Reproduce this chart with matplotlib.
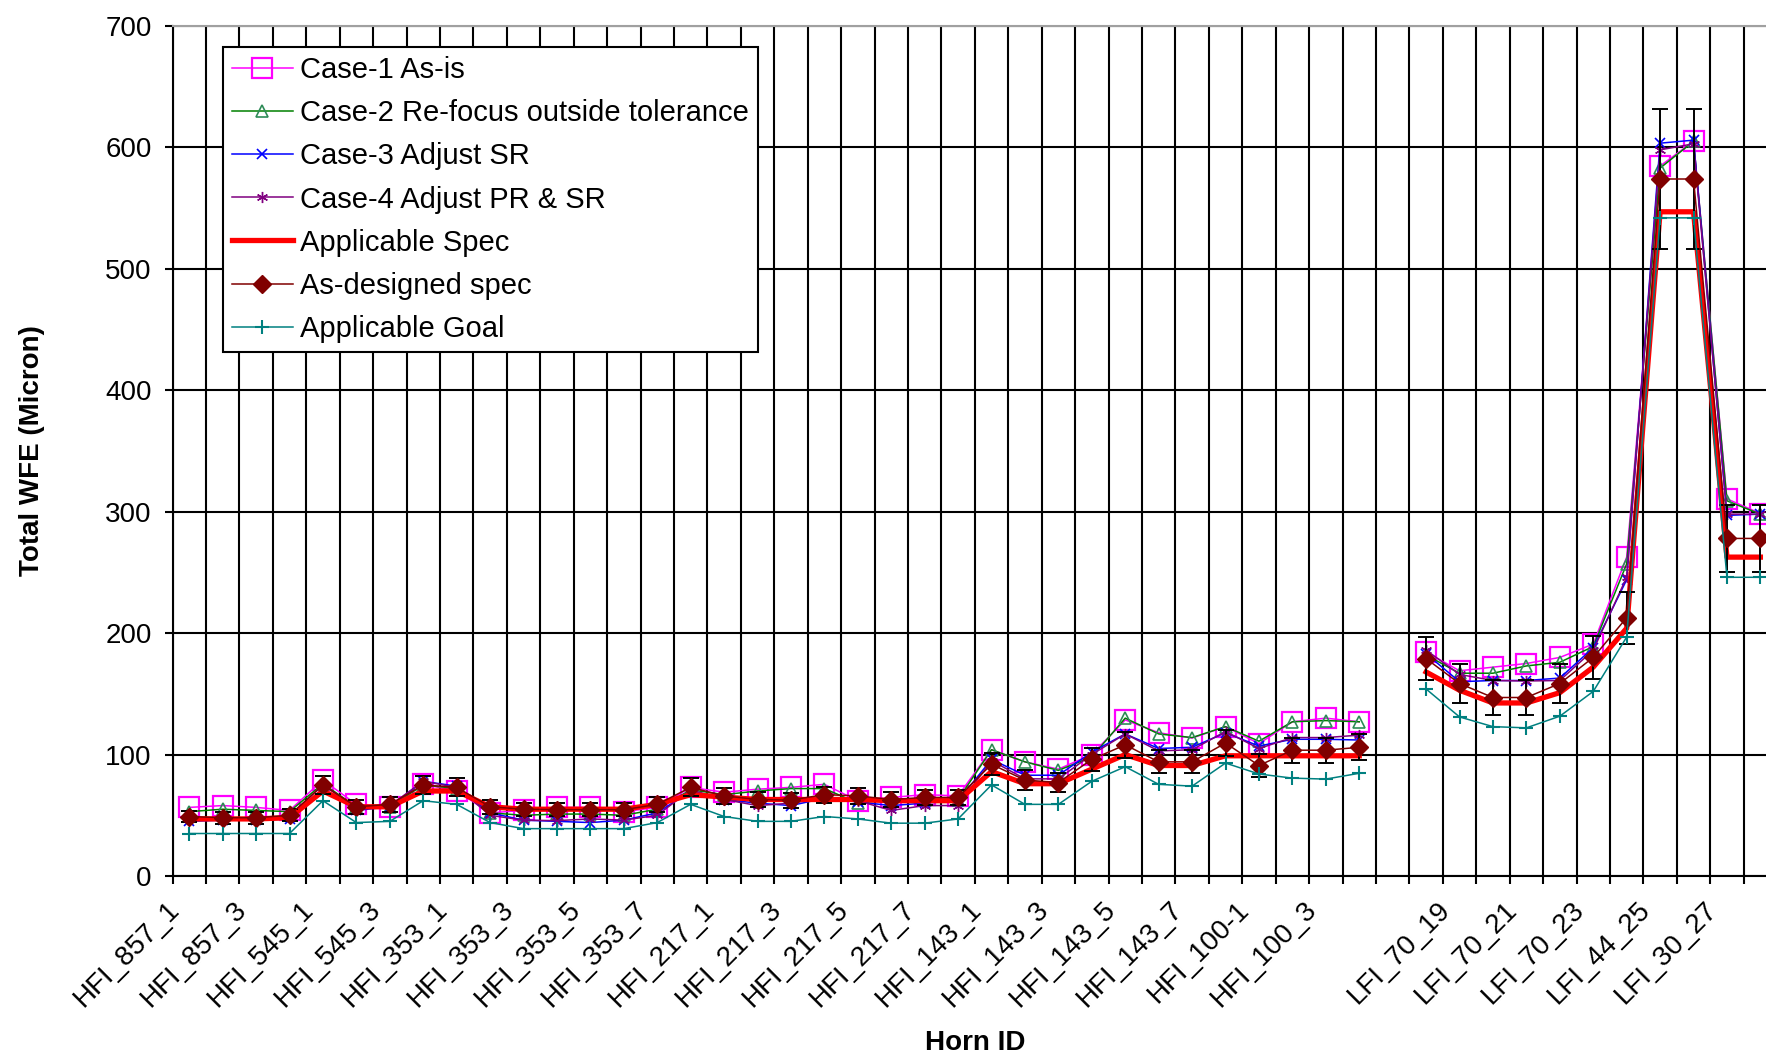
import matplotlib
matplotlib.use('Agg')
import matplotlib.pyplot as plt
import matplotlib.transforms as mtransforms
import numpy as np

plt.rcParams['font.family'] = ['Liberation Sans', 'DejaVu Sans']

nan = np.nan

# horn IDs (one empty slot between HFI and LFI)
horns = ['HFI_857_1', 'HFI_857_2', 'HFI_857_3', 'HFI_857_4',
         'HFI_545_1', 'HFI_545_2', 'HFI_545_3', 'HFI_545_4',
         'HFI_353_1', 'HFI_353_2', 'HFI_353_3', 'HFI_353_4',
         'HFI_353_5', 'HFI_353_6', 'HFI_353_7', 'HFI_353_8',
         'HFI_217_1', 'HFI_217_2', 'HFI_217_3', 'HFI_217_4',
         'HFI_217_5', 'HFI_217_6', 'HFI_217_7', 'HFI_217_8',
         'HFI_143_1', 'HFI_143_2', 'HFI_143_3', 'HFI_143_4',
         'HFI_143_5', 'HFI_143_6', 'HFI_143_7', 'HFI_143_8',
         'HFI_100-1', 'HFI_100_2', 'HFI_100_3', 'HFI_100_4',
         '',
         'LFI_70_18', 'LFI_70_19', 'LFI_70_20', 'LFI_70_21',
         'LFI_70_22', 'LFI_70_23', 'LFI_44_24', 'LFI_44_25',
         'LFI_44_26', 'LFI_30_27', 'LFI_30_28']

case1 = [56.5, 58, 56.5, 54, 79, 59, 56.5, 75.5, 70, 52, 54, 56.5, 56.5, 53, 56.5, 73,
         69, 71.5, 73, 75.5, 62, 64.7, 67, 66, 104, 94, 88, 100, 128.5, 118, 113.6, 123,
         109, 127, 130, 127, nan,
         184.5, 169, 172, 175, 180, 191, 262.6, 584.7, 605, 310.6, 298.5]
case2 = [53, 55, 54, 53, 76, 57, 57, 75, 72, 52, 50, 51, 51, 50, 55, 71,
         67, 70, 72, 72, 60, 63, 63, 63, 104, 94, 87, 98, 130, 117, 114, 123,
         111, 127, 128, 127, nan,
         182, 167, 167, 173, 176, 189, 257, 583, 605, 309, 298]
case3 = [45, 46, 46, 47, 72, 54, 57, 78, 74, 52, 46, 45, 44, 46, 52, 70,
         63, 60, 58, 64, 61, 58, 60, 62, 96, 83, 83, 102, 117, 105, 106, 118,
         107, 112.6, 112.6, 112, nan,
         183, 160, 161, 161, 163, 188, 244, 603.5, 606, 297, 298]
case4 = [47, 47, 47, 49, 75, 56, 58, 78, 73, 50, 46, 45.6, 47, 46, 50, 71,
         63, 58, 60, 64, 62, 54, 58, 58, 95, 80, 80, 100, 117, 103, 104, 119,
         105, 114, 114, 116, nan,
         186, 166, 161, 160.6, 161, 186, 246, 598, 603, 298, 298]
spec = [47, 47, 47, 48, 70, 57, 57, 70, 70, 57, 55, 55, 55, 55, 59, 67,
        65, 63, 63, 63, 63, 62, 62, 62, 86, 76, 76, 88, 100, 91, 91, 99,
        99, 99, 99, 99, nan,
        168, 153, 142.5, 142.5, 151, 172, 204, 547, 547, 262.6, 262.6]
as_designed = [49, 48, 48, 50, 75, 57, 59, 75, 73, 57, 55, 54.6, 54.6, 54.6, 59, 73,
               66, 63, 62.5, 67, 66, 63, 64.7, 64.7, 92, 79, 77, 96, 108, 94, 94, 109.5,
               91, 103.6, 103.6, 106, nan,
               179, 158.5, 147, 147, 158.5, 180, 212.7, 574, 574, 278, 278]
goal = [35, 35, 35, 35, 62, 44, 45, 62, 59, 44, 39, 39, 39, 39, 44, 59,
        49, 45, 45, 49, 47, 43.5, 43.5, 47, 75, 59, 59, 78, 90, 75.5, 74, 93,
        84, 80.6, 79.8, 84.6, nan,
        154, 131, 123, 122, 131.6, 152, 196.8, 542, 542, 246, 246]

ERR_PCT = 0.10  # error bars on as-designed spec

W, H = 1766, 1058
fig = plt.figure(figsize=(W / 100, H / 100), dpi=100)
# the right edge runs past the picture, as in the cropped original
ax = fig.add_axes([172.5 / W, (H - 876) / H, 1604.6 / W, (876 - 26) / H])

x = np.arange(len(horns))
asd = np.array(as_designed)

ax.plot(x, case1, color='#FF00FF', lw=1.1, marker='s', ms=14, mfc='none',
        mec='#FF00FF', mew=1.6, label='Case-1 As-is', zorder=3)
ax.plot(x, case2, color='#008000', lw=1.1, marker='^', ms=8, mfc='none',
        mec='#2E8B57', mew=1.2, label='Case-2 Re-focus outside tolerance', zorder=3)
ax.plot(x, case3, color='#0000FF', lw=1.1, marker='x', ms=7, mew=1.2,
        label='Case-3 Adjust SR', zorder=3)
ax.plot(x, case4, color='#800080', lw=1.1, marker=(6, 2, 0), ms=8, mew=1.0,
        label='Case-4 Adjust PR & SR', zorder=3)
ax.plot(x, spec, color='#FF0000', lw=3.8, label='Applicable Spec', zorder=3)
ax.errorbar(x, asd, yerr=asd * ERR_PCT, fmt='none', ecolor='black',
            elinewidth=1.4, capsize=6, capthick=1.4, zorder=4)
ax.plot(x, as_designed, color='#800000', lw=1.1, marker='D', ms=9,
        mfc='#800000', mec='#800000', label='As-designed spec', zorder=5)
ax.plot(x, goal, color='#008080', lw=1.1, marker='+', ms=10, mew=1.5,
        label='Applicable Goal', zorder=5)

ax.set_xlim(-0.5, len(horns) - 0.5)
ax.set_ylim(0, 700)
ax.set_yticks(range(0, 701, 100))
ax.set_xticks(x[::2])
ax.set_xticklabels(horns[::2], rotation=45, ha='right', va='top',
                   rotation_mode='anchor', fontsize=20)
ax.set_xticks(np.arange(-0.5, len(horns), 1), minor=True)
ax.tick_params(axis='x', which='major', length=0, pad=15)
ax.tick_params(axis='x', which='minor', length=6, width=1.5, direction='out')
ax.tick_params(axis='y', which='major', length=6, width=1.5, direction='out',
               labelsize=20, pad=9)

# nudge the slanted labels left so they end just before their point
shift = mtransforms.ScaledTranslation(-0.225, 0, fig.dpi_scale_trans)
for lab in ax.get_xticklabels():
    lab.set_transform(lab.get_transform() + shift)

ax.grid(True, which='minor', axis='x', color='black', lw=1.5)
ax.grid(True, which='major', axis='y', color='black', lw=1.5)
ax.set_axisbelow(True)

for s in ['left', 'bottom']:
    ax.spines[s].set_linewidth(1.5)
ax.spines['top'].set_color('#A0A0A0')
ax.spines['top'].set_linewidth(1.5)

ax.set_ylabel('Total WFE (Micron)', fontsize=20, fontweight='bold')
ax.yaxis.set_label_coords(-0.0795, 0.5)
ax.set_xlabel('Horn ID', fontsize=20, fontweight='bold')
ax.xaxis.set_label_coords(0.5, -0.181)

leg = ax.legend(loc='upper left', bbox_to_anchor=(0.0315, 0.975), fontsize=21,
                frameon=True, fancybox=False, framealpha=1, edgecolor='black',
                borderpad=0.3, handlelength=2.1, handletextpad=0.25,
                labelspacing=0.52, borderaxespad=0)
leg.get_frame().set_linewidth(1.5)

fig.savefig('out.png', dpi=100)
